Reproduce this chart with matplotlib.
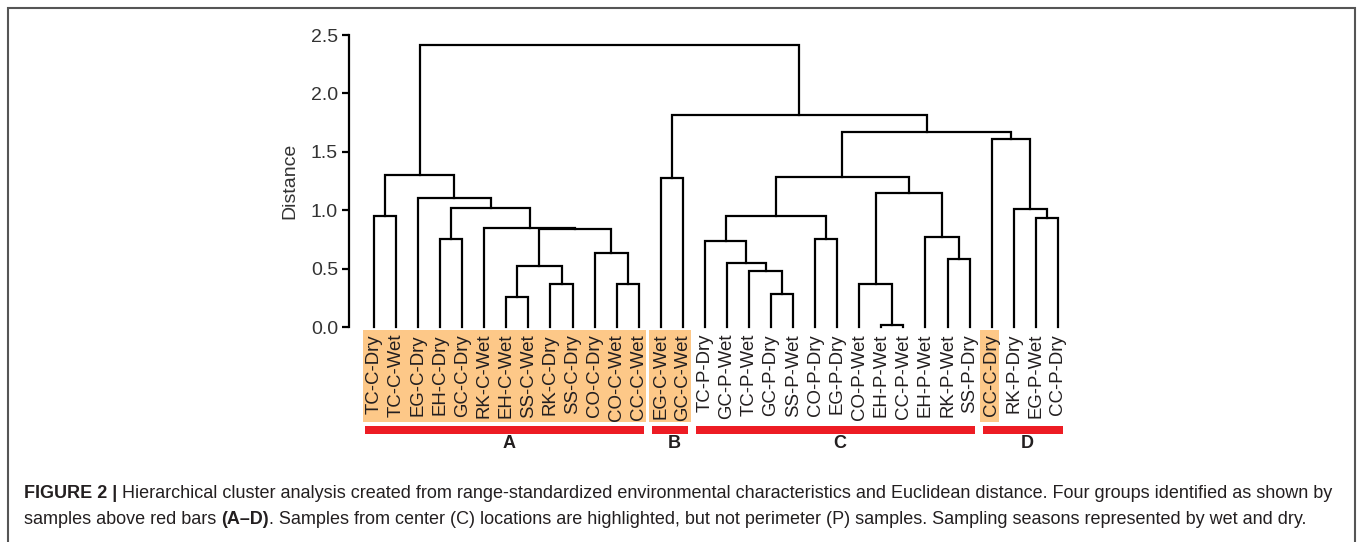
import matplotlib
matplotlib.use("Agg")
import matplotlib.pyplot as plt
from matplotlib import transforms
from matplotlib.patches import Rectangle

plt.rcParams["font.family"] = ["Liberation Sans", "DejaVu Sans"]

W, H, DPI = 1358, 542, 100

# ---- data -------------------------------------------------------------
LEAF_LABELS = [
    "TC-C-Dry", "TC-C-Wet", "EG-C-Dry", "EH-C-Dry", "GC-C-Dry", "RK-C-Wet",
    "EH-C-Wet", "SS-C-Wet", "RK-C-Dry", "SS-C-Dry", "CO-C-Dry", "CO-C-Wet",
    "CC-C-Wet",
    "EG-C-Wet", "GC-C-Wet",
    "TC-P-Dry", "GC-P-Wet", "TC-P-Wet", "GC-P-Dry", "SS-P-Wet", "CO-P-Dry",
    "EG-P-Dry", "CO-P-Wet", "EH-P-Wet", "CC-P-Wet", "EH-P-Wet", "RK-P-Wet",
    "SS-P-Dry",
    "CC-C-Dry", "RK-P-Dry", "EG-P-Wet", "CC-P-Dry",
]

# linkage rows (left, right, distance); ids >= 32 are earlier rows (32 + row)
LINKAGE = [
    (23, 24, 0.017), (6, 7, 0.257), (18, 19, 0.283), (8, 9, 0.365),
    (22, 32, 0.368), (11, 12, 0.371), (17, 34, 0.477), (33, 35, 0.525),
    (16, 38, 0.548), (26, 27, 0.582), (10, 37, 0.631), (15, 40, 0.739),
    (20, 21, 0.751), (3, 4, 0.756), (25, 41, 0.771), (39, 42, 0.839),
    (5, 47, 0.850), (30, 31, 0.933), (0, 1, 0.950), (43, 44, 0.953),
    (29, 49, 1.013), (45, 48, 1.022), (2, 53, 1.102), (36, 46, 1.147),
    (13, 14, 1.279), (51, 55, 1.281), (50, 54, 1.299), (28, 52, 1.610),
    (57, 59, 1.672), (56, 60, 1.815), (58, 61, 2.414),
]

Y_TICKS = [0.0, 0.5, 1.0, 1.5, 2.0, 2.5]

HIGHLIGHT_SPANS = [(0, 12), (13, 14), (28, 28)]  # centre (C) samples
GROUP_NAMES = ["A", "B", "C", "D"]
GROUP_SPANS = [(0, 12), (13, 14), (15, 27), (28, 31)]

CAPTION_1 = [("FIGURE 2 |", "bold"),
             ("Hierarchical cluster analysis created from range-standardized "
              "environmental characteristics and Euclidean distance. Four groups "
              "identified as shown by", "normal")]
CAPTION_2 = [("samples above red bars", "normal"), ("(A\u2013D)", "bold"),
             (". Samples from center (C) locations are highlighted, but not "
              "perimeter (P) samples. Sampling seasons represented by wet and dry.",
              "normal")]

# ---- layout (pixels) --------------------------------------------------
AX_L, AX_R, AX_T, AX_B = 349, 1080, 35, 327
LEAF0_PX, LEAF_STEP = 374, 22.06
TEXT_COLOR = "#231f20"
ORANGE = "#fdc888"
RED = "#ed1c24"


def fy(py):
    return 1 - py / H


fig = plt.figure(figsize=(W / DPI, H / DPI), dpi=DPI)
ax = fig.add_axes([AX_L / W, fy(AX_B), (AX_R - AX_L) / W, (AX_B - AX_T) / H])
ax.set_xlim((AX_L - LEAF0_PX) / LEAF_STEP, (AX_R - LEAF0_PX) / LEAF_STEP)
ax.set_ylim(0, 2.5)

# dendrogram
n = len(LEAF_LABELS)
xs = [float(i) for i in range(n)]
hs = [0.0] * n
for a, b, h in LINKAGE:
    ax.plot([xs[a], xs[a], xs[b], xs[b]], [hs[a], h, h, hs[b]], color="black",
            lw=1.6, solid_joinstyle="miter", clip_on=False)
    xs.append((xs[a] + xs[b]) / 2)
    hs.append(h)

for side in ("top", "right", "bottom"):
    ax.spines[side].set_visible(False)
ax.spines["left"].set_linewidth(1.6)

ax.set_yticks(Y_TICKS)
ax.set_yticklabels([f"{v:.1f}" for v in Y_TICKS])
ax.tick_params(axis="y", length=5, width=1.6, pad=3, labelsize=14,
               labelcolor="#333333")
ax.set_ylabel("Distance", fontsize=14, color="#333333")
ax.yaxis.set_label_coords((298 - AX_L) / (AX_R - AX_L), 0.5)

ax.set_xticks(range(n))
ax.set_xticklabels(LEAF_LABELS, rotation=90, fontsize=13.4, color=TEXT_COLOR)
ax.tick_params(axis="x", length=0, pad=5)

# highlight boxes, group bars and letters below the axis
blend = transforms.blended_transform_factory(ax.transData, fig.transFigure)
for lo, hi in HIGHLIGHT_SPANS:
    ax.add_patch(Rectangle((lo - 0.52, fy(422)), hi - lo + 0.87, (422 - 330) / H,
                           transform=blend, facecolor=ORANGE, edgecolor="none",
                           clip_on=False, zorder=0.5))
for name, (lo, hi) in zip(GROUP_NAMES, GROUP_SPANS):
    ax.add_patch(Rectangle((lo - 0.4, fy(433.5)), hi - lo + 0.65, 7.5 / H,
                           transform=blend, facecolor=RED, edgecolor="none",
                           clip_on=False))
    ax.text((lo + hi) / 2 + 0.1, fy(443), name, transform=blend, ha="center",
            va="center", fontsize=13, fontweight="bold", color=TEXT_COLOR)

# outer frame
fig.add_artist(Rectangle((8 / W, -0.05), (1355 - 8) / W, fy(8) + 0.05,
                         transform=fig.transFigure, fill=False,
                         edgecolor="#555555", lw=1.5))

# caption, bold and normal runs side by side
renderer = fig.canvas.get_renderer()


def draw_runs(runs, x_px, y_px, size):
    probe = fig.text(0, 0, "n n", fontsize=size)
    w2 = probe.get_window_extent(renderer).width
    probe.set_text("nn")
    gap = w2 - probe.get_window_extent(renderer).width
    probe.remove()
    x = x_px
    out = []
    for i, (txt, weight) in enumerate(runs):
        if i and not txt.startswith((".", ",")):
            x += gap
        t = fig.text(x / W, fy(y_px), txt, fontsize=size, fontweight=weight,
                     ha="left", va="center", color=TEXT_COLOR)
        x += t.get_window_extent(renderer).width
        out.append(t)
    return out, x


tmp, end = draw_runs(CAPTION_1, 24, 494, 10)
for t in tmp:
    t.remove()
cap_size = 10 * (1335 - 24) / (end - 24)
draw_runs(CAPTION_1, 24, 494, cap_size)
draw_runs(CAPTION_2, 24, 519, cap_size)

fig.savefig("out.png", dpi=DPI)
